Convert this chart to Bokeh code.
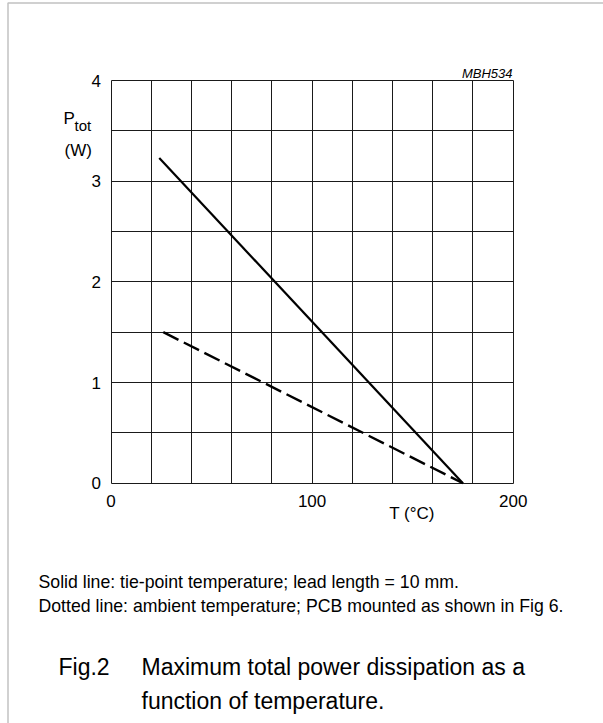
from bokeh.plotting import figure
from bokeh.models import FixedTicker, Label, Range1d, Grid, BoxAnnotation
from bokeh.embed import file_html
from bokeh.resources import INLINE

# ---- data ----
solid_T = [24, 175]
solid_P = [3.23, 0.0]
dashed_T = [26, 175]
dashed_P = [1.5, 0.0]

x_ticks = [0, 100, 200]
y_ticks = [0, 1, 2, 3, 4]
x_grid = [0, 20, 40, 60, 80, 100, 120, 140, 160, 180, 200]
y_grid = [0, 0.5, 1, 1.5, 2, 2.5, 3, 3.5, 4]
X_MIN, X_MAX = 0, 200
Y_MIN, Y_MAX = 0, 4

# ---- layout (pixels on the page) ----
W, H = 603, 723
PX0, PX1 = 110.5, 512.7   # page x of T=0 and T=200
PY0, PY1 = 482.7, 80.0    # page y of P=0 and P=4
sx = (PX1 - PX0) / (X_MAX - X_MIN)
sy = (PY0 - PY1) / (Y_MAX - Y_MIN)
x_start = X_MIN - PX0 / sx
x_end = x_start + W / sx
y_end = Y_MAX + PY1 / sy
y_start = y_end - H / sy

FONT = "Liberation Sans"

p = figure(width=W, height=H, output_backend="svg", toolbar_location=None,
           title=None, x_range=Range1d(x_start, x_end), y_range=Range1d(y_start, y_end),
           min_border=0, min_border_left=0, min_border_right=0,
           min_border_top=0, min_border_bottom=0)
p.outline_line_color = None

for ax, ticks, standoff in ((p.xaxis, x_ticks, 12), (p.yaxis, y_ticks, 10)):
    ax.fixed_location = 0
    ax.ticker = FixedTicker(ticks=ticks)
    ax.axis_line_color = None
    ax.major_tick_line_color = None
    ax.minor_tick_line_color = None
    ax.major_tick_out = 0
    ax.major_tick_in = 0
    ax.major_label_standoff = standoff
    ax.major_label_text_font = FONT
    ax.major_label_text_font_size = "17px"
    ax.major_label_text_color = "black"

GRID_COLOR = "#1a1a1a"
if "cross_bounds" in Grid.properties():
    p.xgrid.ticker = FixedTicker(ticks=x_grid)
    p.ygrid.ticker = FixedTicker(ticks=y_grid)
    p.xgrid.cross_bounds = (Y_MIN, Y_MAX)
    p.ygrid.cross_bounds = (X_MIN, X_MAX)
    for g in (p.xgrid, p.ygrid):
        g.grid_line_color = GRID_COLOR
        g.grid_line_width = 1
else:
    p.xgrid.visible = False
    p.ygrid.visible = False
    p.segment(x0=x_grid, y0=[Y_MIN] * len(x_grid), x1=x_grid, y1=[Y_MAX] * len(x_grid),
              line_color=GRID_COLOR, line_width=1)
    p.segment(x0=[X_MIN] * len(y_grid), y0=y_grid, x1=[X_MAX] * len(y_grid), y1=y_grid,
              line_color=GRID_COLOR, line_width=1)

p.line(solid_T, solid_P, line_color="black", line_width=2.2)
p.line(dashed_T, dashed_P, line_color="black", line_width=2.4, line_dash="17 6")

# outer figure border (only top and left edges fall inside the page)
p.add_layout(BoxAnnotation(left=7.5, right=W + 20, top=H - 2.5, bottom=-20,
                           left_units="screen", right_units="screen",
                           top_units="screen", bottom_units="screen",
                           fill_color=None, line_color="#333333", line_width=1.5))

def lab(px, py, text, size, align="left", style="normal"):
    p.add_layout(Label(x=px, y=H - py, x_units="screen", y_units="screen",
                       text=text, text_font=FONT, text_font_size=size,
                       text_align=align, text_baseline="alphabetic",
                       text_color="black", text_font_style=style))

lab(63, 118, "P", "17px")
lab(74, 125, "tot", "15px")
lab(64, 150, "(W)", "17px")
lab(512, 73, "MBH534", "13px", align="right", style="italic")
lab(411.5, 513, "T (°C)", "17px", align="center")

lab(38, 581, "Solid line: tie-point temperature; lead length = 10 mm.", "17.7px")
lab(38, 605, "Dotted line: ambient temperature; PCB mounted as shown in Fig 6.", "17.7px")
lab(58, 666, "Fig.2", "23px")
lab(141, 666, "Maximum total power dissipation as a", "23px")
lab(141, 700, "function of temperature.", "23px")

open("out.html", "w").write(file_html(p, INLINE))
